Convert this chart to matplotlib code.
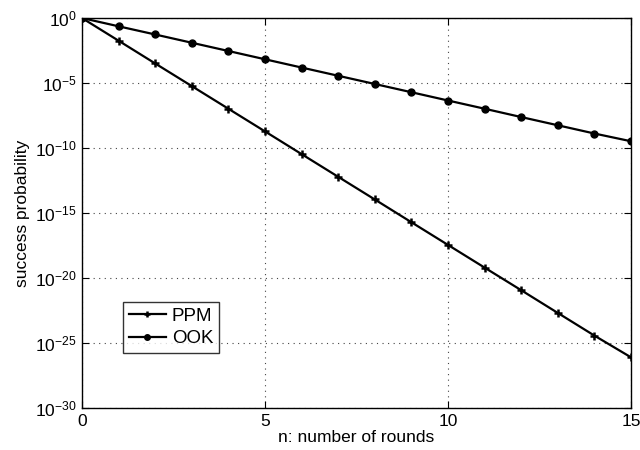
import matplotlib
matplotlib.use("Agg")
import matplotlib.pyplot as plt
from matplotlib.ticker import FixedLocator, LogFormatterSciNotation, NullLocator

plt.rcParams['font.family'] = ['Liberation Sans', 'DejaVu Sans']
plt.rcParams['mathtext.fontset'] = 'custom'
plt.rcParams['mathtext.rm'] = 'Liberation Sans'
plt.rcParams['mathtext.it'] = 'Liberation Sans'
plt.rcParams['mathtext.bf'] = 'Liberation Sans'

rounds = list(range(16))
ppm = [1.0, 1.8e-2, 3.2e-4, 5.8e-6, 1.05e-7, 1.9e-9, 3.4e-11, 6.1e-13,
       1.1e-14, 1.95e-16, 3.5e-18, 6.3e-20, 1.15e-21, 2.05e-23, 3.7e-25, 7.9e-27]
ook = [1.0, 2.3e-1, 5.4e-2, 1.25e-2, 2.9e-3, 6.7e-4, 1.55e-4, 3.6e-5,
       8.4e-6, 1.95e-6, 4.5e-7, 1.05e-7, 2.4e-8, 5.6e-9, 1.3e-9, 3.3e-10]
yticks = [1e-30, 1e-25, 1e-20, 1e-15, 1e-10, 1e-5, 1e0]
xticks = [0, 5, 10, 15]

fig = plt.figure(figsize=(6.4, 4.5), dpi=100)
ax = fig.add_axes([0.128, 0.0933, 0.858, 0.8667])

ax.semilogy(rounds, ppm, color='black', lw=1.6, marker='+', ms=5.5, mew=1.8, label='PPM')
ax.semilogy(rounds, ook, color='black', lw=1.6, marker='o', ms=5, label='OOK')

ax.set_xlim(0, 15)
ax.set_ylim(1e-30, 1e0)
ax.xaxis.set_major_locator(FixedLocator(xticks))
ax.yaxis.set_major_locator(FixedLocator(yticks))
ax.yaxis.set_minor_locator(NullLocator())
ax.yaxis.set_major_formatter(LogFormatterSciNotation())
ax.grid(True, which='major', linestyle=(0, (1, 4)), color='#444444', lw=0.8)
ax.tick_params(which='both', direction='in', top=True, right=True, length=5, width=0.8, labelsize=12.5, pad=4)
for s in ax.spines.values():
    s.set_linewidth(1.0)

ax.set_xlabel('n: number of rounds', fontsize=12.5, labelpad=1)
ax.set_ylabel('success probability', fontsize=12.5, labelpad=3)

leg = ax.legend(loc='lower left', bbox_to_anchor=(0.075, 0.141), fontsize=13.5,
                frameon=True, fancybox=False, edgecolor='black', borderpad=0.3,
                handlelength=2.0, handletextpad=0.3, labelspacing=0.3, borderaxespad=0,
                markerscale=0.8)
leg.get_frame().set_linewidth(1.0)

fig.savefig('out.png', dpi=100)
